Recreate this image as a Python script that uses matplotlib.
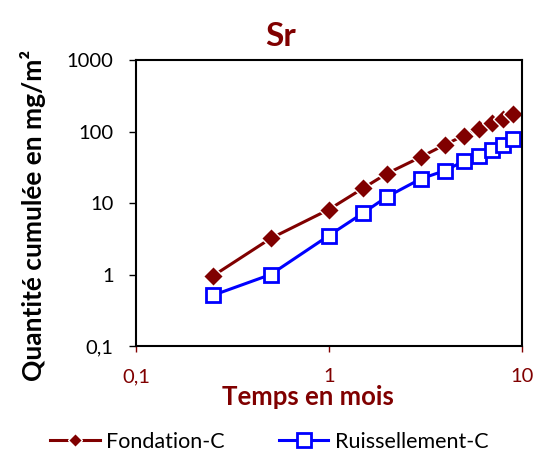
import matplotlib
matplotlib.use('Agg')
from matplotlib import pyplot as plt
from matplotlib.ticker import FixedLocator, NullLocator, FuncFormatter

plt.rcParams['font.family'] = ['Lato', 'DejaVu Sans']

# time in months
months = [0.25, 0.5, 1, 1.5, 2, 3, 4, 5, 6, 7, 8, 9]
# cumulated quantity (mg/m2)
fondation = [0.95, 3.2, 8.1, 16.0, 25.8, 44, 65.5, 87.5, 109, 130, 151, 177]
ruissellement = [0.51, 1.0, 3.5, 7.2, 12.2, 21.8, 28.4, 38.4, 46, 55.7, 65.5, 78]

x_ticks = [0.1, 1, 10]
y_ticks = [0.1, 1, 10, 100, 1000]

DARKRED = '#800000'


def fmt(v, pos):
    if v < 1:
        return '{:g}'.format(v).replace('.', ',')
    return '{:g}'.format(v)


def main():
    fig = plt.figure(figsize=(5.39, 4.58), dpi=100)
    ax = fig.add_axes([0.252, 0.2445, 0.716, 0.6245])

    ax.plot(months, fondation, color=DARKRED, lw=2.2, marker='D', ms=10,
            markerfacecolor=DARKRED, markeredgecolor='white', markeredgewidth=1,
            label='Fondation-C')
    ax.plot(months, ruissellement, color='#0000FF', lw=2.2, marker='s', ms=10,
            markerfacecolor='white', markeredgecolor='#0000FF', markeredgewidth=2,
            label='Ruissellement-C')

    ax.set_xscale('log')
    ax.set_yscale('log')
    ax.set_xlim(0.1, 10)
    ax.set_ylim(0.1, 1000)
    ax.xaxis.set_major_locator(FixedLocator(x_ticks))
    ax.yaxis.set_major_locator(FixedLocator(y_ticks))
    ax.xaxis.set_minor_locator(NullLocator())
    ax.yaxis.set_minor_locator(NullLocator())
    ax.xaxis.set_major_formatter(FuncFormatter(fmt))
    ax.yaxis.set_major_formatter(FuncFormatter(fmt))

    ax.tick_params(axis='y', direction='out', length=5, width=1, labelsize=14.5,
                   colors='black', pad=11)
    ax.tick_params(axis='x', direction='out', length=4, width=1, labelsize=14.5,
                   colors=DARKRED, labelcolor=DARKRED, pad=12)
    for s in ax.spines.values():
        s.set_linewidth(1.5)
        s.set_color('black')

    ax.set_title('Sr', fontsize=24, fontweight='bold', color=DARKRED, pad=10, x=0.375)
    ax.set_xlabel('Temps en mois', fontsize=18.5, fontweight='bold', color=DARKRED)
    ax.set_ylabel('Quantité cumulée en mg/m²', fontsize=19, fontweight='bold')
    ax.xaxis.set_label_coords(0.446, -0.135)
    ax.yaxis.set_label_coords(-0.232, 0.456)

    leg = fig.legend(loc='center', bbox_to_anchor=(0.5, 0.035), ncol=2, frameon=False,
                     fontsize=15.5, handlelength=2.3, columnspacing=2.5, handletextpad=0.3)
    leg.legend_handles[0].set_markersize(7)

    plt.savefig('out.png', dpi=100)


if __name__ == '__main__':
    main()
